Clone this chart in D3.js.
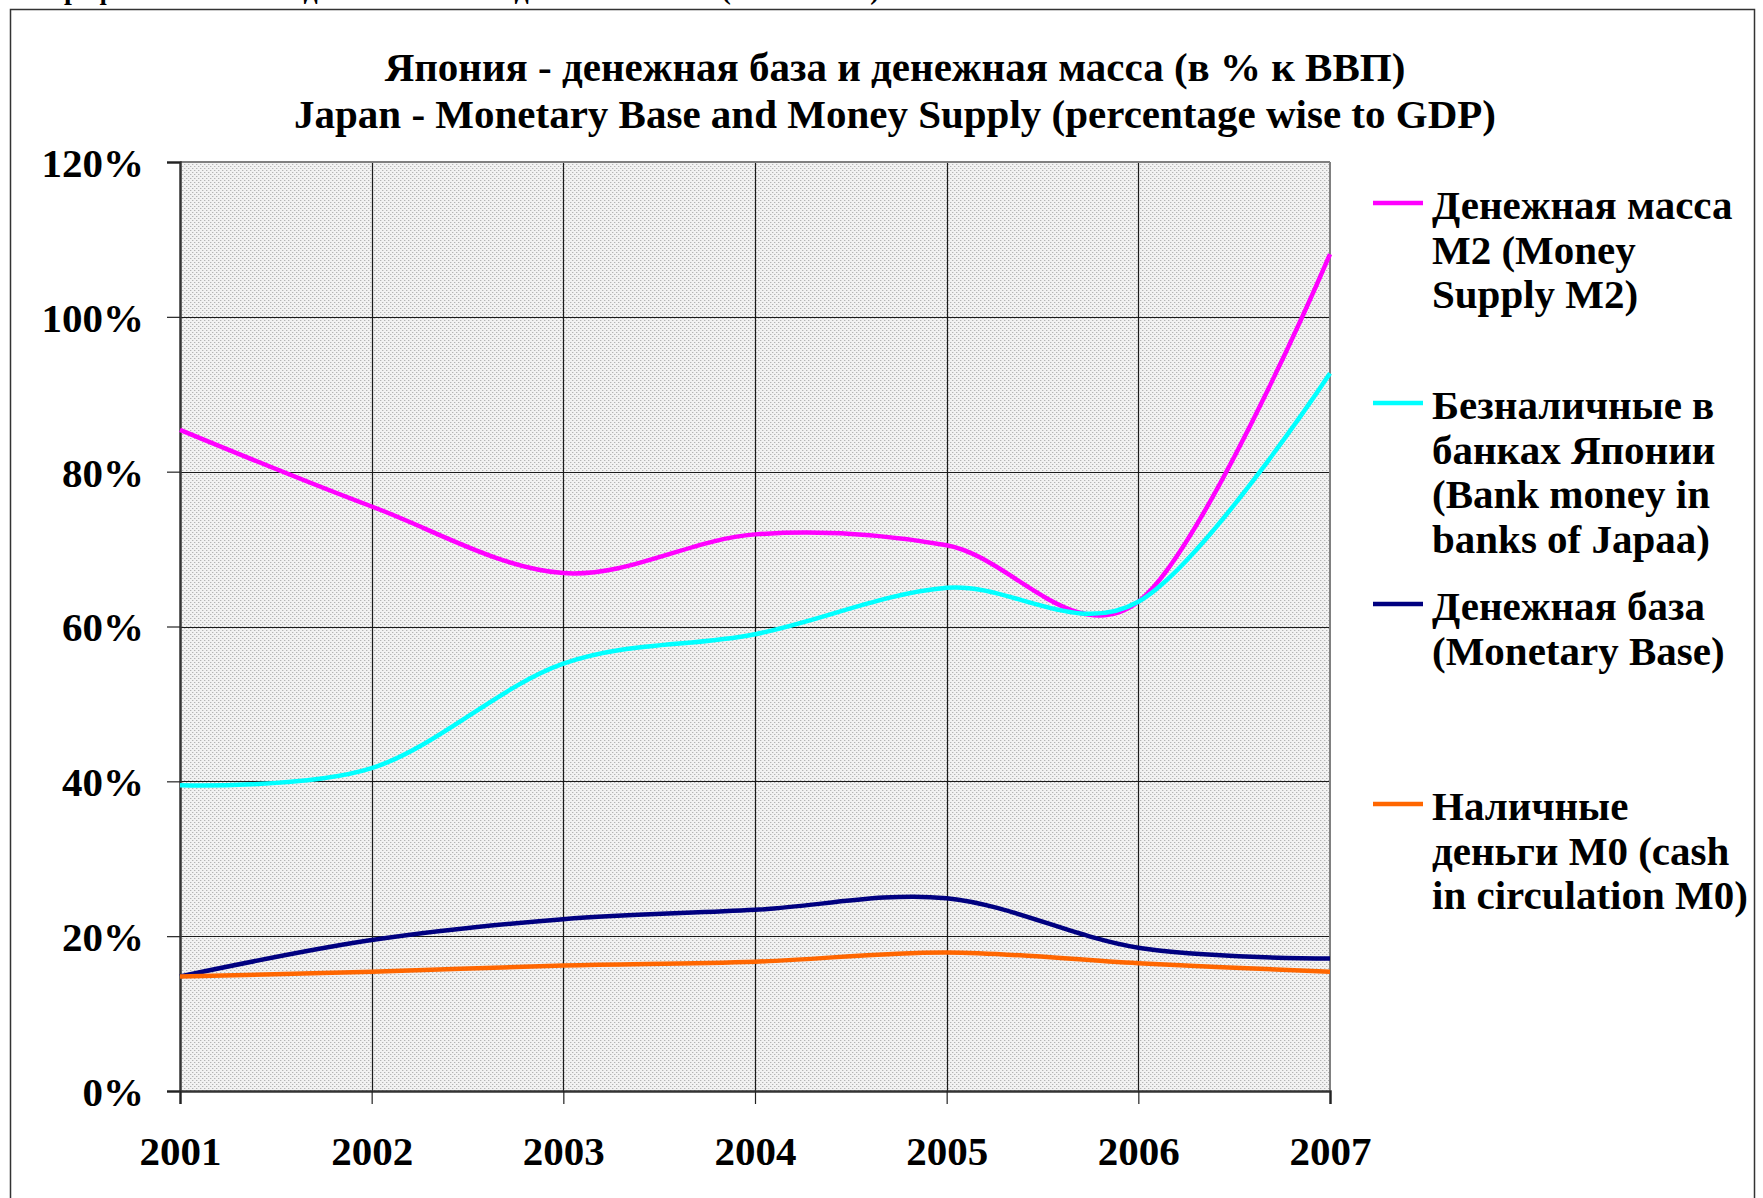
<!DOCTYPE html>
<html>
<head>
<meta charset="utf-8">
<script src="https://cdn.jsdelivr.net/npm/d3@7"></script>
<style>
  html, body { margin: 0; padding: 0; background: #fff; }
  svg { display: block; }
  text { font-family: "Liberation Serif", "Times New Roman", serif; font-weight: bold; fill: #000; }
</style>
</head>
<body>
<svg id="chart" width="1763" height="1198"></svg>
<script>
// ---- data ----
const years = [2001, 2002, 2003, 2004, 2005, 2006, 2007];
const moneySupplyM2 = [85.4, 75.5, 66.9, 71.9, 70.5, 63.2, 108.1];
const bankMoney = [39.5, 41.7, 55.2, 59.0, 65.0, 63.2, 92.7];
const monetaryBase = [14.8, 19.5, 22.2, 23.4, 24.9, 18.5, 17.1];
const cashM0 = [14.8, 15.4, 16.2, 16.7, 17.9, 16.5, 15.4];
const yTicks = [0, 20, 40, 60, 80, 100, 120];
const titleLines = ["Япония - денежная база и денежная масса (в % к ВВП)",
                    "Japan - Monetary Base and Money Supply (percentage wise to GDP)"];
const seriesNames = [
  ["Денежная масса", "M2 (Money", "Supply M2)"],
  ["Безналичные в", "банках Японии", "(Bank money in", "banks of Japaa)"],
  ["Денежная база", "(Monetary Base)"],
  ["Наличные", "деньги M0 (cash", "in circulation M0)"]
];
const seriesColors = ["#FF00FF", "#00FFFF", "#000080", "#FF6600"];
const seriesValues = [moneySupplyM2, bankMoney, monetaryBase, cashM0];

// ---- layout ----
const svg = d3.select("#chart");
const plot = { left: 180, right: 1330, top: 162, bottom: 1091 };
const FS = 41;

const x = d3.scaleLinear().domain([2001, 2007]).range([plot.left, plot.right]);
const y = d3.scaleLinear().domain([0, 120]).range([plot.bottom, plot.top]);

// background pattern
const defs = svg.append("defs");
const pat = defs.append("pattern").attr("id", "dots").attr("patternUnits", "userSpaceOnUse")
  .attr("width", 4).attr("height", 4);
pat.append("rect").attr("width", 4).attr("height", 4).attr("fill", "#f2f2f2");
pat.append("rect").attr("x", 0).attr("y", 0).attr("width", 1).attr("height", 1).attr("fill", "#b4b4b4");
pat.append("rect").attr("x", 2).attr("y", 2).attr("width", 1).attr("height", 1).attr("fill", "#b4b4b4");
pat.append("rect").attr("x", 1).attr("y", 0).attr("width", 1).attr("height", 1).attr("fill", "#dcdcdc");
pat.append("rect").attr("x", 3).attr("y", 2).attr("width", 1).attr("height", 1).attr("fill", "#dcdcdc");

// cut-off caption at the very top (only its lower part is visible, as in the source page)
svg.append("text").attr("x", 48).attr("y", -1).attr("font-size", 28)
  .text("Графики: Япония – денежная база и денежная масса (в % к ВВП)");

// outer frame
svg.append("rect").attr("x", 10.5).attr("y", 9.5).attr("width", 1744).attr("height", 1300)
  .attr("fill", "none").attr("stroke", "#333").attr("stroke-width", 1.5);

// plot area
svg.append("rect").attr("x", plot.left).attr("y", plot.top)
  .attr("width", plot.right - plot.left).attr("height", plot.bottom - plot.top)
  .attr("fill", "url(#dots)");

// gridlines
const g = svg.append("g");
g.selectAll("line.hg").data(yTicks.filter(d => d > 0 && d < 120)).enter().append("line")
  .attr("x1", plot.left).attr("x2", plot.right)
  .attr("y1", d => Math.round(y(d)) + 0.5).attr("y2", d => Math.round(y(d)) + 0.5)
  .attr("stroke", "#1a1a1a").attr("stroke-width", 1.2);
g.selectAll("line.vg").data(years.filter(d => d > 2001 && d < 2007)).enter().append("line")
  .attr("y1", plot.top).attr("y2", plot.bottom)
  .attr("x1", d => Math.round(x(d)) + 0.5).attr("x2", d => Math.round(x(d)) + 0.5)
  .attr("stroke", "#1a1a1a").attr("stroke-width", 1.2);

// plot border (top/right gray)
svg.append("line").attr("x1", plot.left).attr("x2", plot.right).attr("y1", plot.top).attr("y2", plot.top)
  .attr("stroke", "#808080").attr("stroke-width", 2);
svg.append("line").attr("x1", plot.right).attr("x2", plot.right).attr("y1", plot.top).attr("y2", plot.bottom)
  .attr("stroke", "#808080").attr("stroke-width", 2);

// axes
const yAxis = d3.axisLeft(y).tickValues(yTicks).tickFormat(d => d + "%").tickSize(13).tickPadding(23);
const yg = svg.append("g").attr("transform", `translate(${plot.left},0)`).call(yAxis);
yg.select(".domain").attr("stroke", "#333").attr("stroke-width", 2.5);
yg.selectAll(".tick line").attr("stroke", "#222").attr("stroke-width", 1.2);
yg.selectAll(".tick text").attr("font-size", FS).attr("font-family", "'Liberation Serif', serif")
  .attr("font-weight", "bold").attr("fill", "#000").attr("dy", "0.35em");

const xAxis = d3.axisBottom(x).tickValues(years).tickFormat(d3.format("d")).tickSize(13).tickPadding(61);
const xg = svg.append("g").attr("transform", `translate(0,${plot.bottom})`).call(xAxis);
xg.select(".domain").attr("stroke", "#333").attr("stroke-width", 2.5);
xg.selectAll(".tick line").attr("stroke", "#222").attr("stroke-width", 1.2);
xg.selectAll(".tick text").attr("font-size", FS).attr("font-family", "'Liberation Serif', serif")
  .attr("font-weight", "bold").attr("fill", "#000").attr("dy", "0");

// lines
const line = d3.line().x((d, i) => x(years[i])).y(d => y(d)).curve(d3.curveCardinal.tension(0));
seriesValues.forEach((vals, k) => {
  svg.append("path").datum(vals).attr("d", line)
    .attr("fill", "none").attr("stroke", seriesColors[k]).attr("stroke-width", 4.5)
    .attr("stroke-linejoin", "round");
});

// title
svg.selectAll("text.title").data(titleLines).enter().append("text")
  .attr("class", "title").attr("x", 895).attr("y", (d, i) => 81 + i * 47)
  .attr("text-anchor", "middle").attr("font-size", FS).text(d => d);

// legend
const legendY = [203, 403, 604, 804];
seriesNames.forEach((lines, k) => {
  svg.append("line").attr("x1", 1373).attr("x2", 1423).attr("y1", legendY[k]).attr("y2", legendY[k])
    .attr("stroke", seriesColors[k]).attr("stroke-width", 4.5);
  const t = svg.append("text").attr("x", 1432).attr("y", legendY[k] + 16).attr("font-size", FS);
  lines.forEach((s, i) => {
    t.append("tspan").attr("x", 1432).attr("dy", i === 0 ? 0 : 44.5).text(s);
  });
});
</script>
</body>
</html>
